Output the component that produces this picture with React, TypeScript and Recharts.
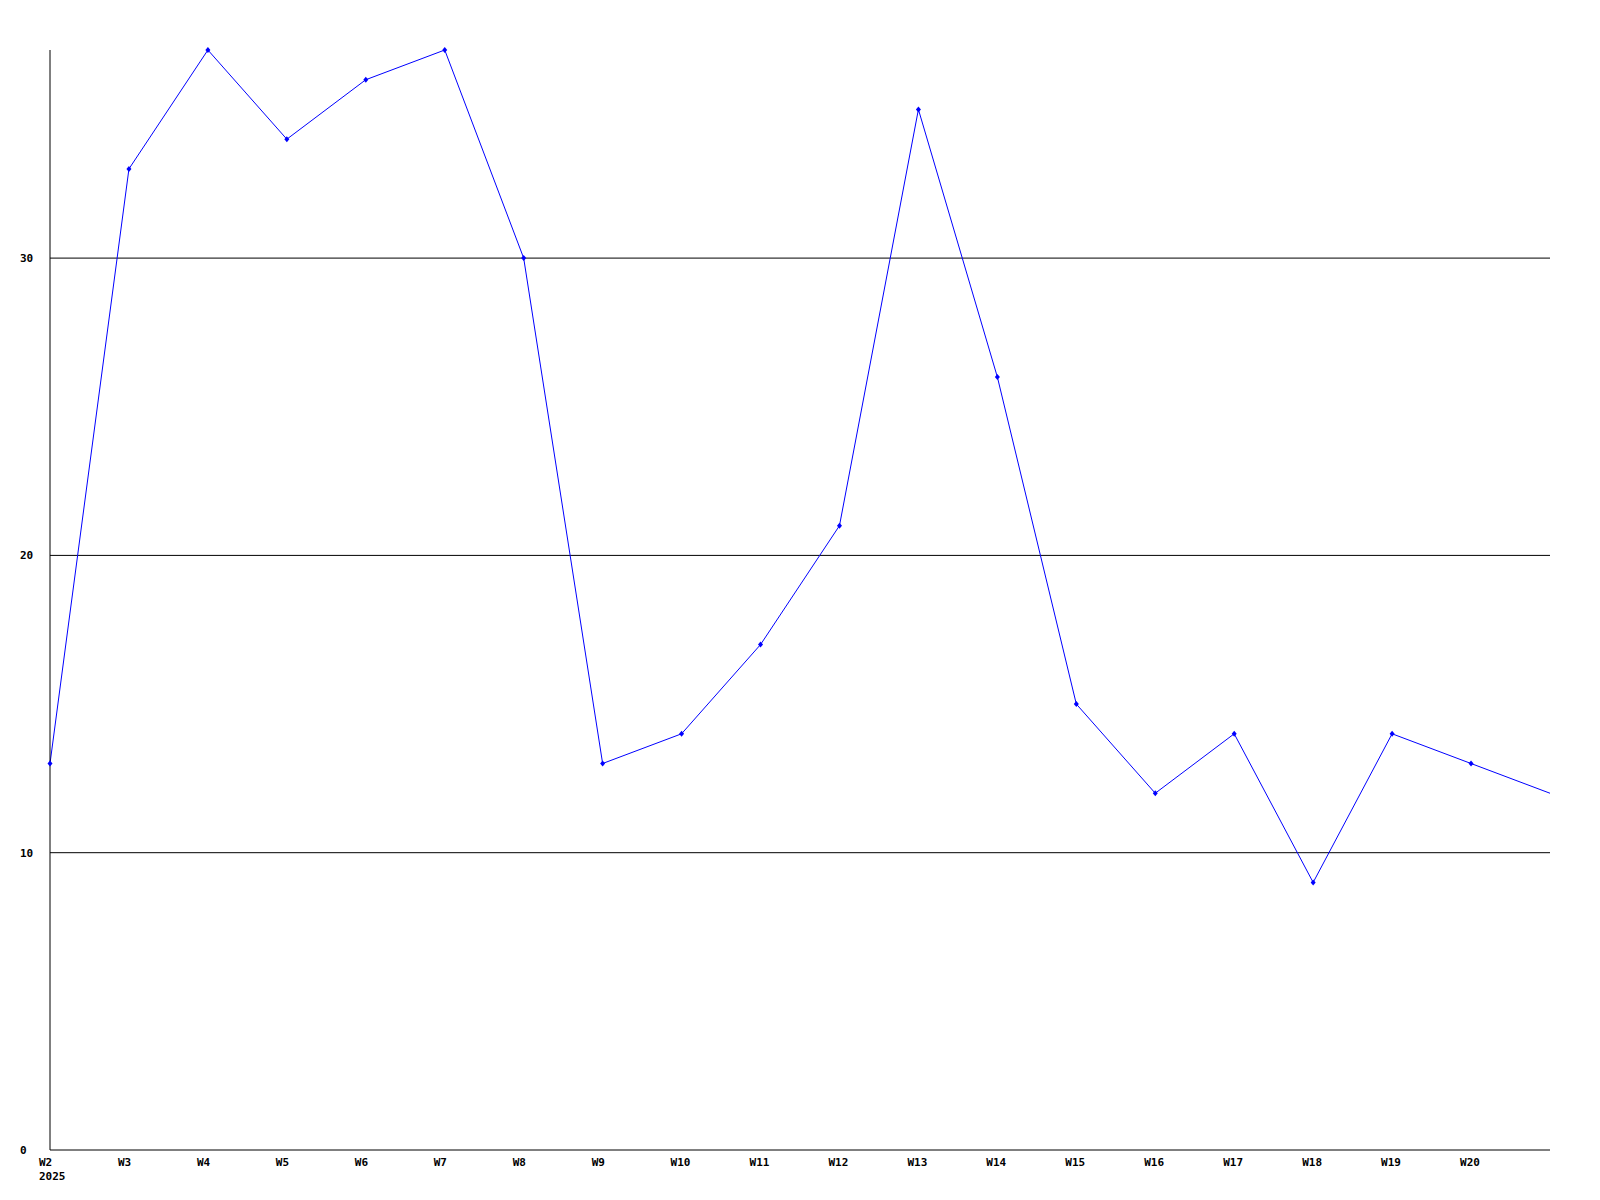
import React from 'react';
import { LineChart, Line, XAxis, YAxis, CartesianGrid } from 'recharts';

// weekly values, W2 2025 .. W21 (last point unlabeled)
const weeks = ['W2', 'W3', 'W4', 'W5', 'W6', 'W7', 'W8', 'W9', 'W10', 'W11', 'W12', 'W13', 'W14', 'W15', 'W16', 'W17', 'W18', 'W19', 'W20', 'W21'];
const counts = [13, 33, 37, 34, 36, 37, 30, 13, 14, 17, 21, 35, 26, 15, 12, 14, 9, 14, 13, 12];
const yTicks = [0, 10, 20, 30];
const gridValues = [10, 20, 30];
const hiddenLabels = ['W21'];
const yearLabel = '2025';

const data = weeks.map((w, i) => ({ week: w, value: counts[i] }));

const FONT = '"DejaVu Sans Mono", "Liberation Mono", monospace';

const XTick = (props: any) => {
  const { x, y, payload, index } = props;
  if (hiddenLabels.includes(payload.value)) return <g />;
  return (
    <g>
      <text x={x - 11} y={y + 16} textAnchor="start" fontFamily={FONT} fontSize={11} fontWeight="bold" fill="#000">
        {payload.value}
      </text>
      {index === 0 && (
        <text x={x - 11} y={y + 30} textAnchor="start" fontFamily={FONT} fontSize={11} fontWeight="bold" fill="#000">
          {yearLabel}
        </text>
      )}
    </g>
  );
};

const YTick = (props: any) => {
  const { y, payload } = props;
  return (
    <text x={20} y={y + 4} textAnchor="start" fontFamily={FONT} fontSize={11} fontWeight="bold" fill="#000">
      {payload.value}
    </text>
  );
};

const Marker = (props: any) => {
  const { cx, cy, index } = props;
  if (index === data.length - 1) return <g key={`m-${index}`} />;
  return (
    <path
      key={`m-${index}`}
      d={`M${cx},${cy - 3} L${cx + 2.5},${cy} L${cx},${cy + 3} L${cx - 2.5},${cy} Z`}
      fill="#0000ff"
      stroke="none"
    />
  );
};

const App: React.FC = () => (
  <div style={{ position: 'absolute', left: 0, top: 0, width: 1600, height: 1200, background: '#fff' }}>
    <LineChart width={1600} height={1200} data={data} margin={{ top: 50, right: 50, bottom: 0, left: 0 }}>
      <CartesianGrid horizontal vertical={false} stroke="#000" strokeWidth={1} horizontalValues={gridValues} />
      <XAxis
        dataKey="week"
        height={50}
        interval={0}
        tickLine={false}
        tickSize={0}
        tickMargin={0}
        axisLine={{ stroke: '#000' }}
        tick={<XTick />}
      />
      <YAxis
        width={50}
        domain={[0, 37]}
        ticks={yTicks}
        tickLine={false}
        axisLine={{ stroke: '#000' }}
        tick={<YTick />}
      />
      <Line
        type="linear"
        dataKey="value"
        stroke="#0000ff"
        strokeWidth={1}
        dot={<Marker />}
        activeDot={false}
        isAnimationActive={false}
      />
    </LineChart>
  </div>
);

export default App;
